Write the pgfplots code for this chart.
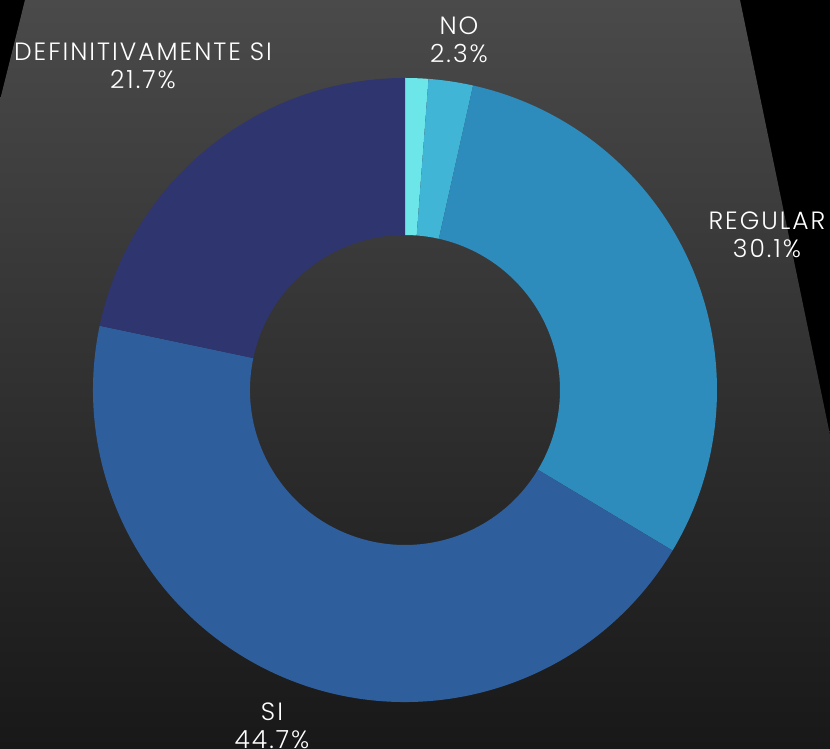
\documentclass[border=0pt]{standalone}
\usepackage{pgfplots}
\pgfplotsset{compat=1.18}
\usepackage{fontspec}
\setmainfont{Poppins}[UprightFont=* Light, LetterSpace=8]
\definecolor{cA}{HTML}{6CE6E8}
\definecolor{cB}{HTML}{40B5D5}
\definecolor{cC}{HTML}{2E8CBD}
\definecolor{cD}{HTML}{2E5F9C}
\definecolor{cE}{HTML}{2F356E}
\definecolor{bgtop}{HTML}{4A4A4A}
\definecolor{bgmid}{HTML}{2A2A2A}
\definecolor{bgbot}{HTML}{181818}
\begin{document}
\begin{tikzpicture}
\useasboundingbox (0,0) rectangle (830pt,749pt);
\clip (0,0) rectangle (830pt,749pt);
\begin{axis}[at={(0,0)}, anchor=south west, scale only axis,
  width=830pt, height=749pt, xmin=0, xmax=830, ymin=0, ymax=749,
  hide axis, clip=false]
\fill[black] (axis cs:-10,-10) rectangle (axis cs:840,760);
\shade[top color=bgtop, middle color=bgmid, bottom color=bgbot]
  (axis cs:25,749) -- (axis cs:740,749) -- (axis cs:895,0) -- (axis cs:-162,0) -- cycle;
\def\cx{405}\def\cy{359}
\foreach \v/\c [evaluate=\v as \e using \s-3.6*\v, remember=\e as \s (initially 90)] in {1.2/cA, 2.3/cB, 30.1/cC, 44.7/cD, 21.7/cE}{
  \edef\temp{\noexpand\fill[\c] ([shift={(\s:312pt)}]axis cs:\cx,\cy) arc[start angle=\s, end angle=\e, radius=312pt] -- ([shift={(\e:155pt)}]axis cs:\cx,\cy) arc[start angle=\e, end angle=\s, radius=155pt] -- cycle;}
  \temp
}
\begin{scope}[every node/.style={text=white, align=center, font=\fontsize{25}{28.5}\selectfont}]
\node at (axis cs:459,709) {NO\\2.3\%};
\node at (axis cs:143,683) {DEFINITIVAMENTE SI\\21.7\%};
\node at (axis cs:767,514) {REGULAR\\30.1\%};
\node at (axis cs:272,23) {SI\\44.7\%};
\end{scope}
\end{axis}
\end{tikzpicture}
\end{document}
